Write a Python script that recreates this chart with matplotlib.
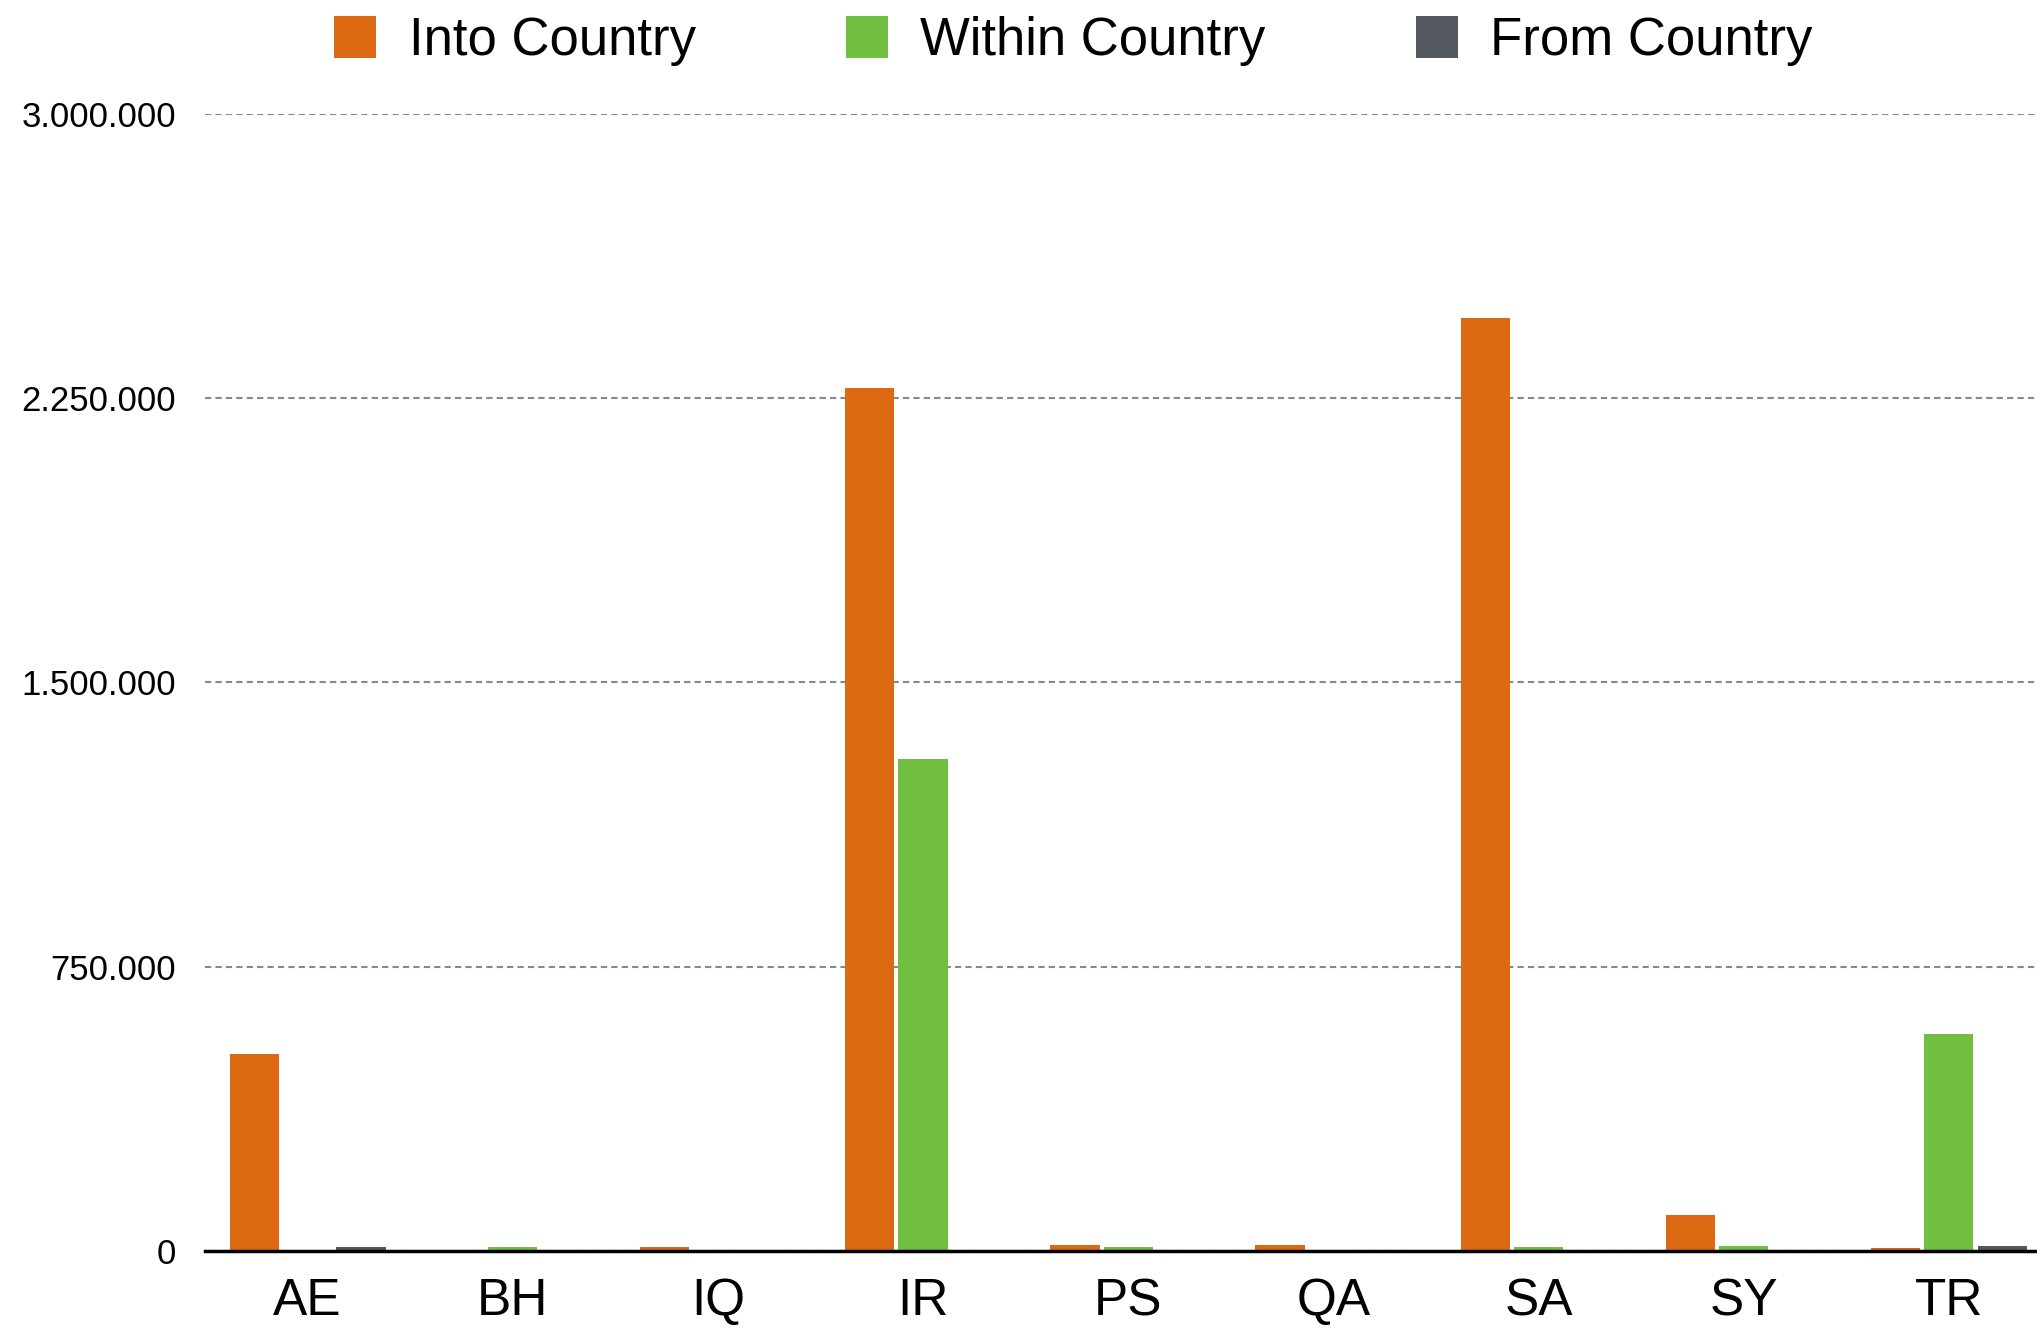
import matplotlib
matplotlib.use("Agg")
import matplotlib.pyplot as plt
from matplotlib.ticker import FuncFormatter
import numpy as np

plt.rcParams["font.family"] = ["Liberation Sans", "DejaVu Sans"]

countries = ["AE", "BH", "IQ", "IR", "PS", "QA", "SA", "SY", "TR"]
into_country = [521000, 0, 11000, 2276000, 17000, 17000, 2461000, 94000, 9000]
within_country = [0, 10000, 0, 1299000, 10000, 0, 10000, 14000, 573000]
from_country = [10000, 0, 0, 0, 0, 0, 0, 0, 14000]

series = [
    ("Into Country", into_country, "#DD6A12"),
    ("Within Country", within_country, "#70BF41"),
    ("From Country", from_country, "#53585F"),
]
yticks = [0, 750000, 1500000, 2250000, 3000000]

fig = plt.figure(figsize=(20.37, 13.30), dpi=100, facecolor="white")
ax = fig.add_axes([0.1007, 0.0594, 0.8993, 0.8549])

x = np.arange(len(countries))
width = 0.24
step = 0.26
for i, (name, vals, col) in enumerate(series):
    ax.bar(x + (i - 1) * step, vals, width, color=col, label=name, zorder=3)

ax.set_xlim(-0.5, 8.43)
ax.set_ylim(0, 3000000)
ax.set_yticks(yticks)
ax.yaxis.set_major_formatter(FuncFormatter(lambda v, p: f"{int(v):,}".replace(",", ".")))
ax.set_xticks(x)
ax.set_xticklabels(countries, fontsize=37)
ax.tick_params(axis="y", labelsize=25, length=0, pad=21)
ax.tick_params(axis="x", length=0, pad=19)

ax.grid(axis="y", color="#888888", linestyle=(0, (3, 2)), linewidth=1.5, zorder=0)
for s in ["top", "right", "left"]:
    ax.spines[s].set_visible(False)
ax.spines["bottom"].set_color("black")
ax.spines["bottom"].set_linewidth(2.5)
ax.spines["bottom"].set_zorder(4)

fig.legend(loc="center", bbox_to_anchor=(0.527, 0.969), ncol=3, frameon=False,
           fontsize=38, handlelength=0.79, handleheight=0.84, handletextpad=0.62,
           columnspacing=2.85)

fig.savefig("out.png", dpi=100, facecolor="white")
